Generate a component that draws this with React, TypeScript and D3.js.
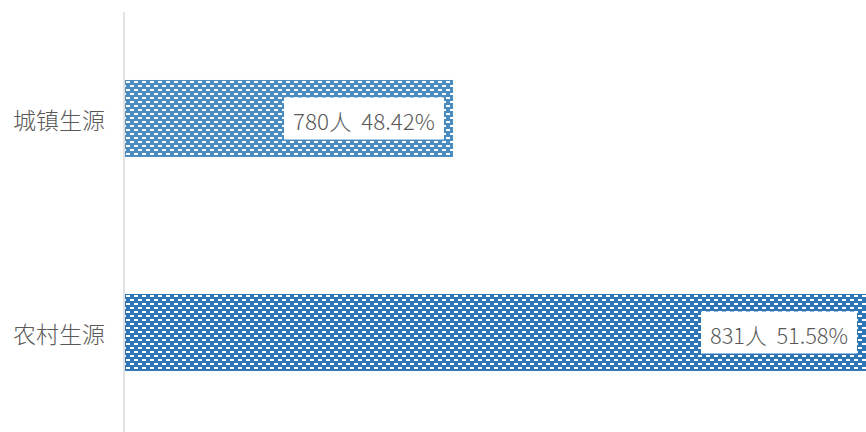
import React, { useEffect, useRef } from "react";
import * as d3 from "d3";

const categories = ["城镇生源", "农村生源"];
const counts = [780, 831];
const percents = ["48.42%", "51.58%"];
const barColors = ["#4a8cc0", "#2e75b6"];

const width = 866;
const height = 432;

const App = () => {
  const svgRef = useRef<SVGSVGElement>(null);

  useEffect(() => {
    const svg = d3.select(svgRef.current);
    svg.selectAll("*").remove();

    const font = "'Noto Sans CJK SC', 'Noto Sans', sans-serif";
    const axisX = 124;

    const x = d3.scaleLinear().domain([739.5, 831]).range([axisX + 1, width]);
    const y = d3
      .scaleBand()
      .domain(categories)
      .range([11.5, 439.5])
      .paddingInner(0.64)
      .paddingOuter(0.32);

    // dashed brick patterns, one per bar colour
    const defs = svg.append("defs");
    barColors.forEach((c, i) => {
      const p = defs
        .append("pattern")
        .attr("id", `brick${i}`)
        .attr("patternUnits", "userSpaceOnUse")
        .attr("x", axisX + 1)
        .attr("y", y(categories[i]))
        .attr("width", 8)
        .attr("height", 8);
      p.append("rect").attr("width", 8).attr("height", 8).attr("fill", c);
      p.append("rect").attr("x", 1).attr("y", 1).attr("width", 4).attr("height", 2).attr("fill", "#fff");
      p.append("rect").attr("x", 5).attr("y", 5).attr("width", 4).attr("height", 2).attr("fill", "#fff");
      p.append("rect").attr("x", -3).attr("y", 5).attr("width", 4).attr("height", 2).attr("fill", "#fff");
    });

    const g = svg.append("g");

    g.selectAll("rect.bar")
      .data(counts)
      .enter()
      .append("rect")
      .attr("class", "bar")
      .attr("x", x(739.5))
      .attr("y", (_, i) => y(categories[i])!)
      .attr("width", (d) => x(d) - x(739.5))
      .attr("height", y.bandwidth())
      .attr("fill", (_, i) => `url(#brick${i})`);

    // axis line
    svg
      .append("line")
      .attr("x1", axisX)
      .attr("x2", axisX)
      .attr("y1", 12)
      .attr("y2", height)
      .attr("stroke", "#d9d9d9")
      .attr("stroke-width", 1.5);

    // category labels
    svg
      .append("g")
      .selectAll("text")
      .data(categories)
      .enter()
      .append("text")
      .attr("x", 105)
      .attr("y", (d) => y(d)! + y.bandwidth() / 2)
      .attr("text-anchor", "end")
      .attr("dominant-baseline", "central")
      .attr("font-family", font)
      .attr("font-size", 23)
      .attr("font-weight", 300)
      .attr("fill", "#595959")
      .text((d) => d);

    // data labels with white boxes
    const labels = svg
      .append("g")
      .selectAll("g")
      .data(counts)
      .enter()
      .append("g");

    labels.each(function (d, i) {
      const lg = d3.select(this);
      const right = Math.min(x(d) - 9, width - 4);
      const cy = y(categories[i])! + y.bandwidth() / 2;
      const boxW = i === 0 ? 160 : 156;
      const boxH = 42;
      lg.append("rect")
        .attr("x", right - boxW)
        .attr("y", cy - boxH / 2)
        .attr("width", boxW)
        .attr("height", boxH)
        .attr("fill", "#fff");
      lg.append("text")
        .attr("x", right - boxW / 2)
        .attr("y", cy + 1)
        .attr("text-anchor", "middle")
        .attr("dominant-baseline", "central")
        .attr("font-family", font)
        .attr("font-size", 22)
        .attr("font-weight", 300)
        .attr("fill", "#595959")
        .attr("textLength", boxW - 18)
        .attr("lengthAdjust", "spacingAndGlyphs")
        .style("white-space", "pre")
        .text(`${d}人  ${percents[i]}`);
    });
  }, []);

  return (
    <svg
      ref={svgRef}
      width={width}
      height={height}
      style={{ position: "absolute", left: 0, top: 0, background: "#fff" }}
    />
  );
};

export default App;
